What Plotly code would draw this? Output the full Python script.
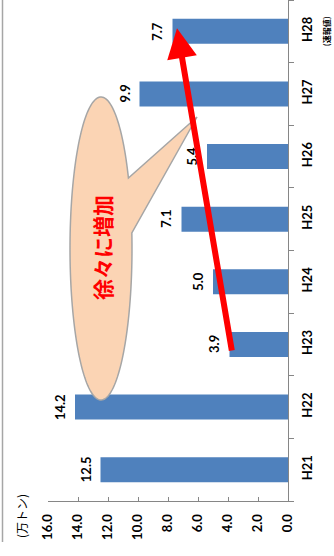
import numpy as np
import plotly.graph_objects as go

categories = ["H21", "H22", "H23", "H24", "H25", "H26", "H27", "H28"]
values = [12.5, 14.2, 3.9, 5.0, 7.1, 5.4, 9.9, 7.7]
value_ticks = [0, 2, 4, 6, 8, 10, 12, 14, 16]
value_labels = ["%.1f" % v for v in value_ticks]
bar_labels = ["%.1f" % v for v in values]

W, H = 334, 556
L, R, T, B = 48, 46, 0, 55
PW, PH = W - L - R, H - T - B

def px(xp):
    return (xp - L) / PW

def py(yp):
    return (T + PH - yp) / PH

FONT = "Lato, 'Liberation Sans', sans-serif"
CJK = "'Noto Sans CJK JP', sans-serif"

fig = go.Figure()
fig.add_trace(go.Bar(
    y=categories, x=values, orientation="h",
    marker=dict(color="#4F81BD", line=dict(width=0)),
    width=0.4, hoverinfo="skip",
))

# bar value labels (rotated, outside bar end)
for c, v, t in zip(categories, values, bar_labels):
    fig.add_annotation(x=v, y=c, xref="x", yref="y", text=t, showarrow=False,
                       textangle=-90, xanchor="center", yanchor="middle", xshift=-15,
                       font=dict(family=FONT, size=13, color="#000000", weight="bold"))

# balloon callout
cx, cy, rx, ry = 101, 248.5, 31, 151.5
tip = (197, 117)
t1 = np.arcsin((178 - cy) / ry)
t2 = np.arcsin((233 - cy) / ry)
ts = np.linspace(t2, t1 + 2 * np.pi, 160)
pts = [(cx + rx * np.cos(t), cy + ry * np.sin(t)) for t in ts]
path = "M %.5f %.5f " % (px(tip[0]), py(tip[1]))
for (a, b) in pts:
    path += "L %.5f %.5f " % (px(a), py(b))
path += "Z"
fig.add_shape(type="path", xref="paper", yref="paper", path=path,
              fillcolor="#FBD4B4", line=dict(color="#A6A6A6", width=1.5),
              layer="above")

# left border of chart area
fig.add_shape(type="line", xref="paper", yref="paper",
              x0=px(2.5), x1=px(2.5), y0=py(0), y1=py(542),
              line=dict(color="#A6A6A6", width=1.5))

fig.add_annotation(text="徐々に増加", xref="paper", yref="paper",
                   x=px(102), y=py(248), showarrow=False, textangle=-90,
                   xanchor="center", yanchor="middle",
                   font=dict(family=CJK, size=21, color="#FF0000", weight="bold"))

# arrow
fig.add_annotation(x=7.4, y=7.05, ax=3.73, ay=1.88, xref="x", yref="y",
                   axref="x", ayref="y", text="", showarrow=True,
                   arrowhead=2, arrowsize=1.0, arrowwidth=6,
                   arrowcolor="#FF0000", standoff=0, startstandoff=0)

fig.add_annotation(text="(速報値)", xref="paper", yref="y", x=px(326), y="H28",
                   showarrow=False, textangle=-90, xanchor="center", yanchor="middle",
                   font=dict(family=CJK, size=8, color="#000000", weight="bold"))

fig.add_annotation(text="(万トン)", xref="paper", yref="paper", x=px(21), y=py(516),
                   showarrow=False, textangle=-90, xanchor="center", yanchor="middle",
                   font=dict(family=CJK, size=12, color="#000000"))

fig.update_layout(
    template="none",
    width=W, height=H,
    margin=dict(l=L, r=R, t=T, b=B, autoexpand=False),
    paper_bgcolor="white", plot_bgcolor="white",
    showlegend=False, hovermode=False,
    font=dict(family=FONT, size=13, color="#000000"),
    xaxis=dict(range=[16, 0], tickvals=value_ticks, ticktext=value_labels,
               tickangle=-90, showgrid=False, zeroline=False, automargin=False,
               showline=True, linecolor="#868686", linewidth=1,
               ticks="inside", ticklen=4, tickcolor="#868686", ticklabelstandoff=7,
               tickfont=dict(family=FONT, size=13, color="#000000", weight="bold")),
    yaxis=dict(categoryorder="array", categoryarray=categories, range=[-0.5, 7.5],
               side="right", tickangle=-90, showgrid=False, zeroline=False,
               automargin=False,
               showline=True, linecolor="#868686", linewidth=1,
               ticks="outside", ticklen=5, tickcolor="#868686", tickson="boundaries",
               ticklabelstandoff=7,
               tickfont=dict(family=FONT, size=13, color="#000000", weight="bold")),
)

fig.write_html("out.html", config={"displayModeBar": False},
               post_script="document.body.style.margin='0';document.body.style.overflow='hidden';")
